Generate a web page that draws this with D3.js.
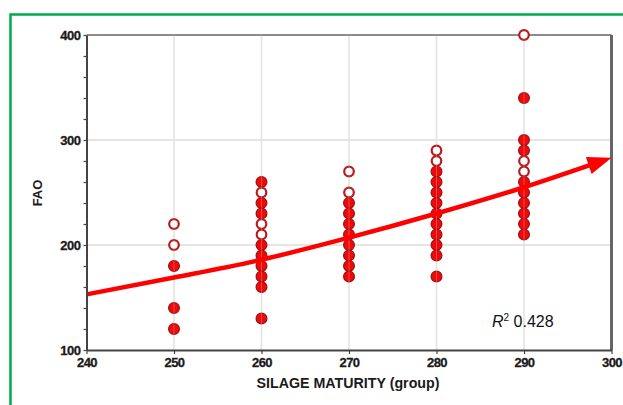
<!DOCTYPE html>
<html><head><meta charset="utf-8">
<script src="https://cdn.jsdelivr.net/npm/d3@7"></script>
<style>body{margin:0;background:#fff}svg{display:block}</style>
</head><body>
<svg id="c" width="623" height="405"></svg>
<script>
// ---- data ----
const xTicks = [240, 250, 260, 270, 280, 290, 300];
const yTicks = [100, 200, 300, 400];
const filledX = [250,250,250, 260,260,260,260,260,260,260,260,260, 270,270,270,270,270,270,270,270, 280,280,280,280,280,280,280,280,280,280, 290,290,290,290,290,290,290,290,290];
const filledY = [180,140,120, 260,240,230,200,190,180,170,160,130, 240,230,220,210,200,190,180,170, 270,260,250,240,230,220,210,200,190,170, 340,300,290,260,250,240,230,220,210];
const openX = [250,250, 260,260,260, 270,270, 280,280, 290,290,290];
const openY = [220,200, 250,220,210, 270,250, 290,280, 400,280,270];
const trendX = [240, 250, 260, 270, 280, 290, 300];
const trendY = [153, 169, 186, 207, 230, 255, 283];
const r2Text = "0.428";

const svg = d3.select("#c");
const x = d3.scaleLinear().domain([240, 300]).range([86.5, 611.5]);
const y = d3.scaleLinear().domain([100, 400]).range([350, 35]);
const FONT = "Liberation Sans, Arial, sans-serif";

// green frame (right and bottom edges lie outside the picture)
svg.append("rect").attr("x", 10.5).attr("y", 14.5).attr("width", 640).attr("height", 420)
  .attr("fill", "none").attr("stroke", "#00a94f").attr("stroke-width", 2.5);

// grid
const grid = svg.append("g");
grid.selectAll("line.v").data(xTicks.slice(1, -1)).join("line")
  .attr("x1", d => x(d)).attr("x2", d => x(d)).attr("y1", y(400)).attr("y2", y(100))
  .attr("stroke", "#dcdcdc").attr("stroke-width", 1.5);
grid.selectAll("line.h").data([200, 300]).join("line")
  .attr("x1", x(240)).attr("x2", x(300)).attr("y1", d => y(d)).attr("y2", d => y(d))
  .attr("stroke", "#dcdcdc").attr("stroke-width", 1.5);

// frame top/right
svg.append("line").attr("x1", x(240)).attr("x2", x(300)).attr("y1", y(400)).attr("y2", y(400))
  .attr("stroke", "#666").attr("stroke-width", 1.5);
svg.append("line").attr("x1", x(300)).attr("x2", x(300)).attr("y1", y(400)).attr("y2", y(100))
  .attr("stroke", "#666").attr("stroke-width", 3);

// points
svg.append("g").selectAll("circle").data(filledX.map((d, i) => [d, filledY[i]])).join("circle")
  .attr("cx", d => x(d[0])).attr("cy", d => y(d[1])).attr("r", 5.4)
  .attr("fill", "#ee0a0a").attr("stroke", "#9e1010").attr("stroke-width", 1.2);
svg.append("g").selectAll("circle").data(openX.map((d, i) => [d, openY[i]])).join("circle")
  .attr("cx", d => x(d[0])).attr("cy", d => y(d[1])).attr("r", 4.8)
  .attr("fill", "#fff").attr("stroke", "#b81c1c").attr("stroke-width", 2.2);

// faint grid over points
svg.append("g").selectAll("line").data(xTicks.slice(1, -1)).join("line")
  .attr("x1", d => x(d)).attr("x2", d => x(d)).attr("y1", y(400)).attr("y2", y(100))
  .attr("stroke", "#fff").attr("stroke-opacity", 0.25).attr("stroke-width", 1);

// trend arrow
const pts = trendX.map((d, i) => [x(d), y(trendY[i])]);
const tip = pts[pts.length - 1];
const prev = pts[pts.length - 2];
let dx = tip[0] - prev[0], dy = tip[1] - prev[1];
const len = Math.hypot(dx, dy); dx /= len; dy /= len;
const headLen = 24, headHalf = 9;
const base = [tip[0] - dx * headLen, tip[1] - dy * headLen];
const linePts = pts.slice(0, -1).concat([[base[0] + dx * 2, base[1] + dy * 2]]);
svg.append("path").attr("d", d3.line().curve(d3.curveMonotoneX)(linePts))
  .attr("fill", "none").attr("stroke", "#ff0000").attr("stroke-width", 4.5);
svg.append("path")
  .attr("d", d3.line()([tip, [base[0] - dy * headHalf, base[1] + dx * headHalf], [base[0] + dy * headHalf, base[1] - dx * headHalf]]) + "Z")
  .attr("fill", "#ff0000");

// axes
const xAxis = d3.axisBottom(x).tickValues(xTicks).tickSize(4).tickSizeOuter(0);
const gx = svg.append("g").attr("transform", `translate(0,${y(100)})`).call(xAxis);
gx.select(".domain").attr("stroke", "#444").attr("stroke-width", 2);
gx.selectAll(".tick line").attr("stroke", "#444").attr("stroke-width", 1.2);
gx.selectAll("text").attr("font-family", FONT).attr("font-weight", "bold")
  .attr("font-size", 13).attr("fill", "#1a1a1a").attr("dy", "0.8em").attr("y", 7).attr("letter-spacing", -0.5)
  .attr("stroke", "#1a1a1a").attr("stroke-width", 0.3);

const yAxis = d3.axisLeft(y).tickValues(d3.range(100, 401, 20)).tickSize(3).tickSizeOuter(0)
  .tickFormat(d => yTicks.includes(d) ? d : "");
const gy = svg.append("g").attr("transform", `translate(${x(240)},0)`).call(yAxis);
gy.select(".domain").attr("stroke", "#444").attr("stroke-width", 2);
gy.selectAll(".tick line").attr("stroke", "#444").attr("stroke-width", 1.2);
gy.selectAll("text").attr("font-family", FONT).attr("font-weight", "bold")
  .attr("font-size", 13).attr("fill", "#1a1a1a").attr("x", -6).attr("letter-spacing", -0.5)
  .attr("stroke", "#1a1a1a").attr("stroke-width", 0.3);

// axis titles
svg.append("text").attr("x", 348).attr("y", 388).attr("text-anchor", "middle")
  .attr("font-family", FONT).attr("font-weight", "bold").attr("font-size", 14)
  .attr("textLength", 183).attr("lengthAdjust", "spacingAndGlyphs")
  .attr("fill", "#1a1a1a").text("SILAGE MATURITY (group)");
svg.append("text").attr("transform", "translate(42,193) rotate(-90)").attr("text-anchor", "middle")
  .attr("font-family", FONT).attr("font-weight", "bold").attr("font-size", 13)
  .attr("fill", "#1a1a1a").text("FAO");

// R2 label
const rt = svg.append("text").attr("x", 492).attr("y", 327)
  .attr("font-family", FONT).attr("font-size", 16).attr("fill", "#111");
rt.append("tspan").attr("font-style", "italic").text("R");
rt.append("tspan").attr("font-size", 10).attr("dy", -6).text("2");
rt.append("tspan").attr("dy", 6).text("\u00a0" + r2Text);
</script>
</body></html>
